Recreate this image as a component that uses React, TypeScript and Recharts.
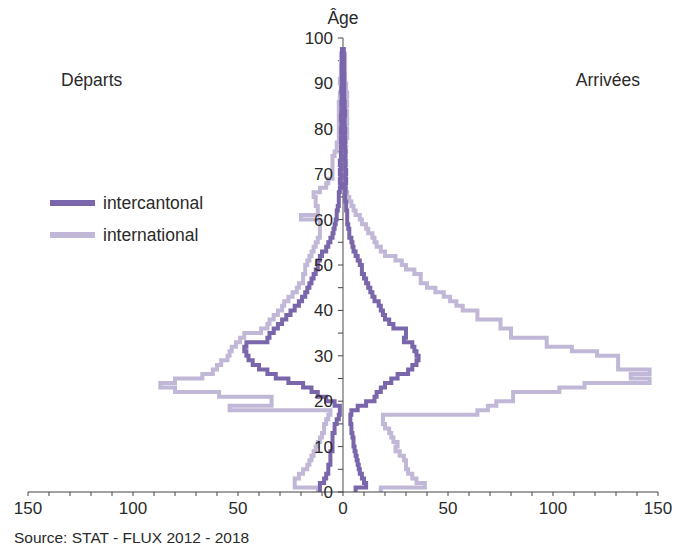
import React from "react";
import {
  Legend,
  Line,
  LineChart,
  ReferenceDot,
  ReferenceLine,
  XAxis,
  YAxis,
} from "recharts";

const FONT = "'Liberation Sans', Arial, sans-serif";
const DARK = "#7a66ab";
const LIGHT = "#c1b8d8";
const TEXT = "#2a2a2a";

// age 0 .. 98 (last row only closes the step)
const ages = Array.from({ length: 99 }, (_, i) => i);

// Départs intercantonal (negative side)
const depInter = [
  -11, -11, -9, -8, -7, -7, -6, -6, -6, -5,
  -5, -5, -5, -4, -4, -3, -2, -1.5, -1.5, -4,
  -8, -12, -15, -19, -26, -32, -36, -40, -43, -45,
  -46, -47, -46, -36, -35, -33, -31, -29, -27, -25,
  -23, -21, -19.5, -18, -17, -16, -15, -14, -13, -12,
  -12, -11, -10, -8, -7, -6, -5, -4.5, -4, -3.5,
  -3, -3, -2.5, -2, -2, -2, -1.5, -1, -1.5, -1,
  -1.5, -1, -1.5, -1, -1, -1, -0.8, -1, -0.8, -1,
  -0.8, -0.8, -1, -0.8, -0.6, -0.8, -0.6, -0.6, -0.8, -0.6,
  -0.6, -0.6, -0.5, -0.6, -0.5, -0.5, -0.5, -0.5, -0.5,
];

// Départs international
const depIntl = [
  -12, -23, -23, -21, -19, -17, -16, -15, -14, -13,
  -12, -11, -10, -9, -9, -8, -7, -6, -54, -34,
  -34, -59, -80, -87, -80, -67, -62, -60, -58, -55,
  -54, -53, -51, -49, -47, -39, -36, -35, -33, -31,
  -29, -28, -26, -24, -22, -21, -19, -19, -18, -18,
  -17, -16, -15, -14, -13, -12, -11, -11, -11, -11,
  -20, -12, -12, -13, -13, -14, -11, -8, -7, -5,
  -5, -5, -5, -5, -4, -3, -3, -2, -2, -2,
  -2, -2, -2, -2, -2, -2, -1, -1.5, -1, -1,
  -1.5, -1, -1, -1, -1, -1, -1, -1, null,
];

// Arrivées intercantonal
const arrInter = [
  6, 11, 10, 9, 8, 7.5, 7, 6.5, 6, 5.5,
  5, 5, 4.5, 4, 4, 3.5, 3.5, 4, 7, 11,
  15, 16, 18, 20, 23, 26, 31, 33, 35, 36,
  35, 34, 33, 29, 30, 30, 24, 22, 20, 19,
  18, 17, 15, 14, 13, 12, 11, 10, 9, 9,
  8, 7, 6, 5, 4.5, 4, 3, 3, 2.5, 2,
  2, 2, 1.5, 1.5, 1, 1, 1.2, 0.8, 1.5, 1,
  1.5, 1, 1.2, 0.8, 1.2, 1, 0.8, 1, 0.8, 1,
  0.8, 0.6, 0.8, 1, 0.6, 0.8, 0.6, 0.6, 0.5, 0.6,
  0.5, 0.6, 0.5, 0.5, 0.5, 0.5, 0.4, 0.4, 0.4,
];

// Arrivées international
const arrIntl = [
  18, 39, 35, 33, 31, 30, 30, 29, 27, 25,
  26, 24, 23, 22, 20, 19, 19, 64, 69, 73,
  81, 81, 103, 115, 146, 137, 146, 131, 131, 131,
  121, 109, 97, 97, 80, 80, 75, 75, 64, 64,
  57, 54, 51, 48, 44, 40, 37, 37, 34, 30,
  28, 25, 20, 18, 16, 15, 14, 12, 11, 9,
  8, 6, 5, 4, 3, 2, 1.5, 1, 0.5, 0.5,
  1, 1, 1.5, 1, 1, 1.5, 1, 1.5, 2, 2,
  1.5, 2, 2, 2, 1.5, 2, 1.5, 2, 1.5, 1.5,
  1, 1, 1, 1, 1, 1, 1, 1, null,
];

const xTicks = [
  -150, -140, -130, -120, -110, -100, -90, -80, -70, -60, -50, -40, -30, -20, -10,
  0, 10, 20, 30, 40, 50, 60, 70, 80, 90, 100, 110, 120, 130, 140, 150,
];
const ageLabels = [0, 10, 20, 30, 40, 50, 60, 70, 80, 90, 100];
const ageTicks = [
  0, 5, 10, 15, 20, 25, 30, 35, 40, 45, 50, 55, 60, 65, 70, 75, 80, 85, 90, 95, 100,
];

const data = ages.map((age, i) => ({
  age,
  depInter: depInter[i],
  depIntl: depIntl[i],
  arrInter: arrInter[i],
  arrIntl: arrIntl[i],
}));

const legendOrder = ["intercantonal", "international"];

const LegendContent = (props: any) => {
  const payload = props.payload || [];
  const items = legendOrder
    .map((name) => payload.find((p: any) => p.value === name))
    .filter(Boolean);
  return (
    <div style={{ fontFamily: FONT, fontSize: 17.5, color: TEXT }}>
      {items.map((p: any) => (
        <div
          key={p.value}
          style={{ display: "flex", alignItems: "center", height: 32 }}
        >
          <span
            style={{
              display: "inline-block",
              width: 45,
              height: 6,
              background: p.color,
              marginRight: 8,
            }}
          />
          <span>{p.value}</span>
        </div>
      ))}
    </div>
  );
};

const Note = ({
  x,
  y,
  size = 17.5,
  anchor = "left",
  children,
}: {
  x: number;
  y: number;
  size?: number;
  anchor?: "left" | "right" | "center";
  children: React.ReactNode;
}) => {
  const tx = anchor === "left" ? "0" : anchor === "right" ? "-100%" : "-50%";
  return (
    <div
      style={{
        position: "absolute",
        left: x,
        top: y,
        transform: `translate(${tx}, -50%)`,
        fontFamily: FONT,
        fontSize: size,
        color: TEXT,
        whiteSpace: "nowrap",
      }}
    >
      {children}
    </div>
  );
};

export default function App() {
  return (
    <div
      style={{
        position: "absolute",
        left: 0,
        top: 0,
        width: 687,
        height: 548,
        background: "#fff",
      }}
    >
      <LineChart
        layout="vertical"
        width={687}
        height={548}
        data={data}
        margin={{ top: 38, right: 29, bottom: 26, left: 28 }}
      >
        <XAxis
          type="number"
          domain={[-150, 150]}
          ticks={xTicks}
          interval={0}
          tickFormatter={(v: number) => (v % 50 === 0 ? String(Math.abs(v)) : "")}
          tick={{ fontSize: 17, fill: TEXT, fontFamily: FONT }}
          tickSize={4}
          tickMargin={6}
          height={30}
          stroke="#444"
        />
        <YAxis type="number" dataKey="age" domain={[0, 100]} reversed hide />
        <ReferenceLine x={0} stroke="#888" strokeWidth={1.5} />
        {ageTicks.map((t) => (
          <ReferenceLine
            key={"t" + t}
            segment={[
              { x: -2.4, y: t },
              { x: 0, y: t },
            ]}
            stroke="#444"
            strokeWidth={1}
          />
        ))}
        {ageLabels.map((t) => (
          <ReferenceDot
            key={"l" + t}
            x={0}
            y={t}
            r={0}
            fill="none"
            stroke="none"
            label={{
              value: String(t),
              position: "left",
              offset: 10,
              fontSize: 17,
              fill: TEXT,
              fontFamily: FONT,
            }}
          />
        ))}
        <Line
          dataKey="depIntl"
          name="international"
          type="stepBefore"
          stroke={LIGHT}
          strokeWidth={4}
          dot={false}
          isAnimationActive={false}
        />
        <Line
          dataKey="arrIntl"
          name="international"
          type="stepBefore"
          stroke={LIGHT}
          strokeWidth={4}
          dot={false}
          isAnimationActive={false}
        />
        <Line
          dataKey="depInter"
          name="intercantonal"
          type="stepBefore"
          stroke={DARK}
          strokeWidth={4}
          dot={false}
          isAnimationActive={false}
        />
        <Line
          dataKey="arrInter"
          name="intercantonal"
          type="stepBefore"
          stroke={DARK}
          strokeWidth={4}
          dot={false}
          isAnimationActive={false}
        />
        <Legend
          layout="horizontal"
          verticalAlign="middle"
          align="center"
          wrapperStyle={{ left: 50, top: 187, width: "auto", height: "auto" }}
          content={LegendContent}
        />
      </LineChart>
      <Note x={343} y={18} anchor="center">
        Âge
      </Note>
      <Note x={61} y={80}>
        Départs
      </Note>
      <Note x={640} y={80} anchor="right">
        Arrivées
      </Note>
      <Note x={14} y={538} size={15.5}>
        Source: STAT - FLUX 2012 - 2018
      </Note>
    </div>
  );
}
